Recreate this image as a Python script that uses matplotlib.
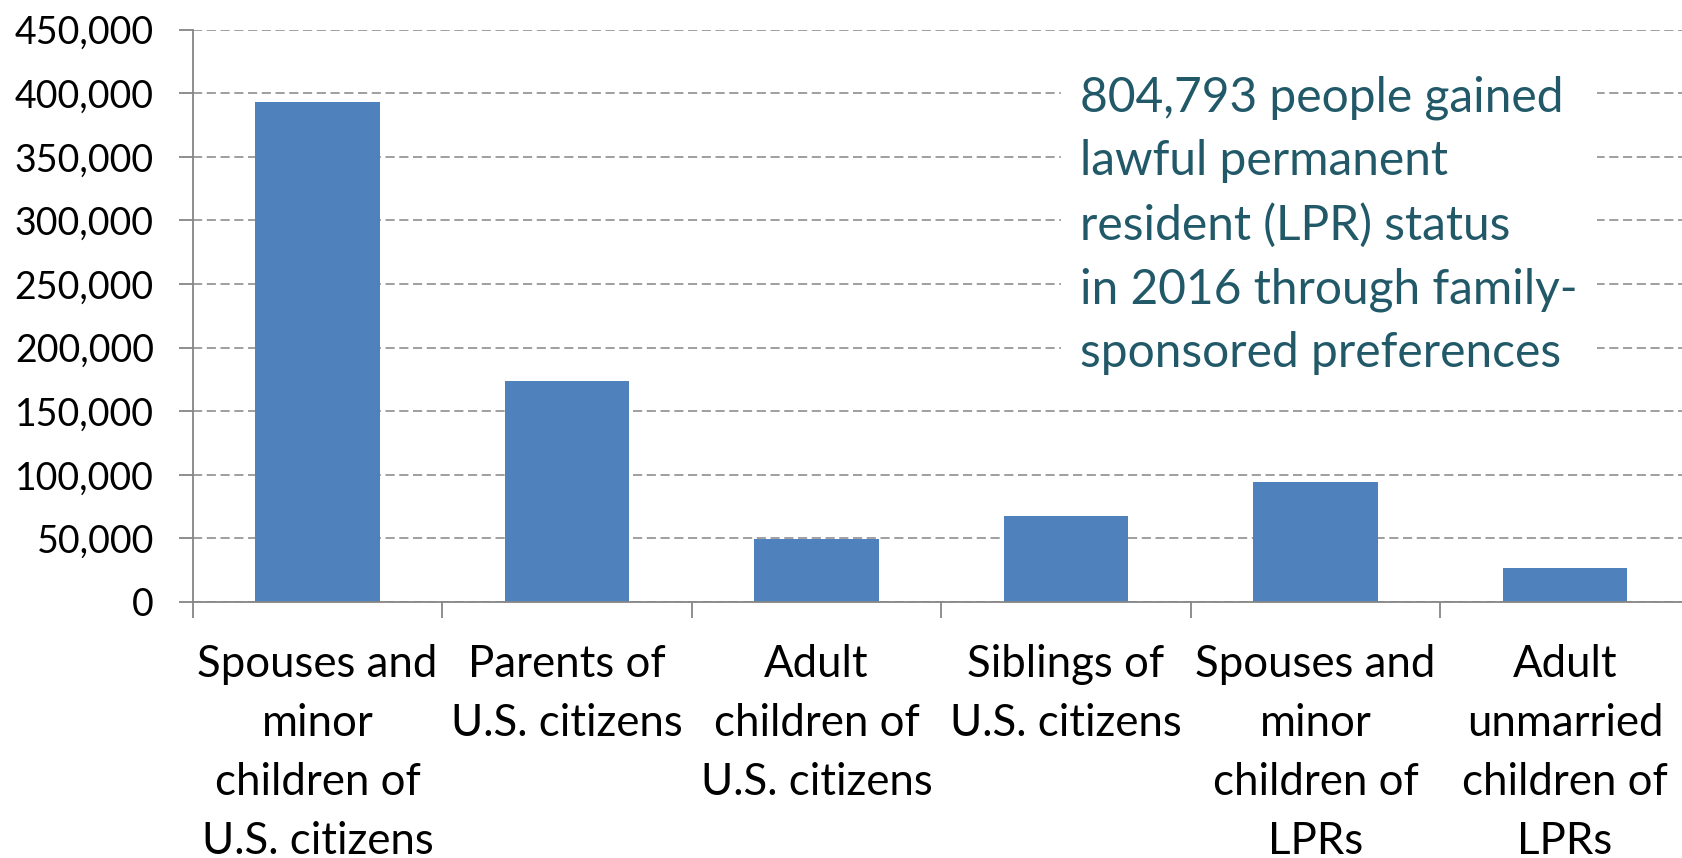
import matplotlib
matplotlib.use('Agg')
import matplotlib.pyplot as plt
from matplotlib.ticker import FuncFormatter, FixedLocator

# LPR admissions by family relationship, 2016
categories = [
    'Spouses and\nminor\nchildren of\nU.S. citizens',
    'Parents of\nU.S. citizens',
    'Adult\nchildren of\nU.S. citizens',
    'Siblings of\nU.S. citizens',
    'Spouses and\nminor\nchildren of\nLPRs',
    'Adult\nunmarried\nchildren of\nLPRs',
]
admissions = [392852, 173854, 49300, 67700, 94400, 26700]
y_ticks = [0, 50000, 100000, 150000, 200000, 250000, 300000, 350000, 400000, 450000]
note = ('804,793 people gained\nlawful permanent\nresident (LPR) status\n'
        'in 2016 through family-\nsponsored preferences')

BAR_COLOR = '#4F81BD'
AXIS_GRAY = '#868686'
NOTE_COLOR = '#215968'

plt.rcParams['font.family'] = ['Lato', 'DejaVu Sans']

fig = plt.figure(figsize=(16.82, 8.58), dpi=100)
ax = fig.add_axes([0.1146, 0.2984, 0.890, 0.667])

x = list(range(len(categories)))
ax.bar(x, admissions, width=0.5, color=BAR_COLOR, zorder=2)

ax.set_xlim(-0.5, len(categories) - 0.5)
ax.set_ylim(0, 450000)

# y axis
ax.set_yticks(y_ticks)
ax.yaxis.set_major_formatter(FuncFormatter(lambda v, _: f'{int(v):,}'))
ax.tick_params(axis='y', length=10, width=1.3, color=AXIS_GRAY, pad=18,
               labelsize=27, labelcolor='black')
ax.grid(axis='y', color='#858585', linestyle=(0, (6, 3)), linewidth=1.1)
ax.set_axisbelow(True)

# x axis: labels centred, tick marks between categories
ax.set_xticks(x)
ax.set_xticklabels(categories, fontsize=31.5, linespacing=1.55, va='top')
ax.xaxis.set_minor_locator(FixedLocator([i - 0.5 for i in range(len(categories) + 1)]))
ax.tick_params(axis='x', which='major', length=0, pad=30)
ax.tick_params(axis='x', which='minor', length=11.5, width=1.3, color=AXIS_GRAY)

for side in ['top', 'right']:
    ax.spines[side].set_visible(False)
for side in ['left', 'bottom']:
    ax.spines[side].set_color(AXIS_GRAY)
    ax.spines[side].set_linewidth(1.3)

fig.text(1080 / 1682, 0.912, note, ha='left', va='top',
         fontsize=34.5, color=NOTE_COLOR, linespacing=1.54, zorder=3,
         bbox=dict(boxstyle='square,pad=0.4', facecolor='white', edgecolor='none'))

fig.savefig('out.png', dpi=100)
